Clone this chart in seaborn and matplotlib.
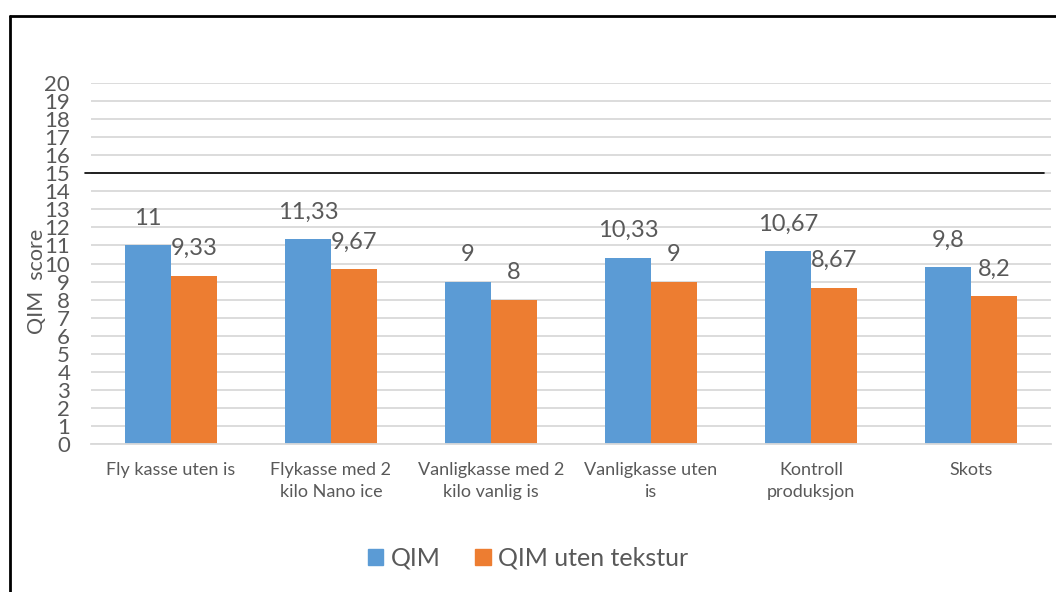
import matplotlib
matplotlib.use("Agg")
import matplotlib.pyplot as plt
import seaborn as sns
import pandas as pd
from matplotlib.patches import Rectangle
from matplotlib.lines import Line2D

categories = ["Fly kasse uten is", "Flykasse med 2\nkilo Nano ice", "Vanligkasse med 2\nkilo vanlig is",
              "Vanligkasse uten\nis", "Kontroll\nproduksjon", "Skots"]
qim = [11, 11.33, 9, 10.33, 10.67, 9.8]
qim_uten = [9.33, 9.67, 8, 9, 8.67, 8.2]
series_names = ["QIM", "QIM uten tekstur"]
labels_qim = ["11", "11,33", "9", "10,33", "10,67", "9,8"]
labels_uten = ["9,33", "9,67", "8", "9", "8,67", "8,2"]
threshold = 15

df = pd.DataFrame({
    "cat": categories * 2,
    "val": qim + qim_uten,
    "series": [series_names[0]] * len(categories) + [series_names[1]] * len(categories),
})

sns.set_theme(style="white")
plt.rcParams["font.family"] = ["Lato", "DejaVu Sans"]
text_color = "#595959"
colors = ["#5B9BD5", "#ED7D31"]

fig = plt.figure(figsize=(10.56, 5.92), dpi=100)
ax = fig.add_axes([91 / 1056, 148 / 592, 960 / 1056, 361 / 592])

sns.barplot(data=df, x="cat", y="val", hue="series", palette=colors, width=0.575,
            saturation=1, ax=ax, legend=False, linewidth=0)

ax.set_ylim(0, 20)
ax.set_xlim(-0.5, 5.5)
ax.set_yticks(range(0, 21))
ax.yaxis.grid(True, color="#D9D9D9", linewidth=1.3)
ax.set_axisbelow(True)
for s in ["top", "right", "left"]:
    ax.spines[s].set_visible(False)
ax.spines["bottom"].set_color("#D9D9D9")
ax.spines["bottom"].set_linewidth(1.3)
ax.tick_params(axis="y", length=0, pad=15, labelsize=16, labelcolor=text_color)
ax.tick_params(axis="x", length=0, pad=13, labelsize=13, labelcolor=text_color)
ax.set_xlabel("")
ax.set_ylabel("QIM  score", fontsize=15.5, color=text_color)
ax.yaxis.set_label_coords(-0.046, 0.45)
for lbl in ax.get_xticklabels():
    lbl.set_linespacing(1.45)

# threshold line
ax.axhline(threshold, xmin=-0.006, xmax=0.993, color="black", linewidth=1.2, clip_on=False)

# data labels
for cont, labs in zip(ax.containers, [labels_qim, labels_uten]):
    for bar, lab in zip(cont, labs):
        ax.annotate(lab, (bar.get_x() + bar.get_width() / 2, bar.get_height()),
                    xytext=(0, 19.5), textcoords="offset points", ha="center", va="center",
                    fontsize=17, color=text_color)

# legend
handles = [Rectangle((0, 0), 1, 1, color=c) for c in colors]
fig.legend(handles, series_names, loc="center", bbox_to_anchor=(0.5, 1 - 558 / 592), ncol=2,
           frameon=False, fontsize=18, handlelength=0.62, handleheight=0.62, handletextpad=0.3,
           columnspacing=1.4, labelcolor=text_color)

# outer border
fig.add_artist(Line2D([10 / 1056, 10 / 1056], [0, 1 - 16 / 592], color="black", linewidth=2,
                      transform=fig.transFigure))
fig.add_artist(Line2D([10 / 1056, 1], [1 - 16 / 592, 1 - 16 / 592], color="black", linewidth=2,
                      transform=fig.transFigure))

fig.savefig("out.png", dpi=100)
